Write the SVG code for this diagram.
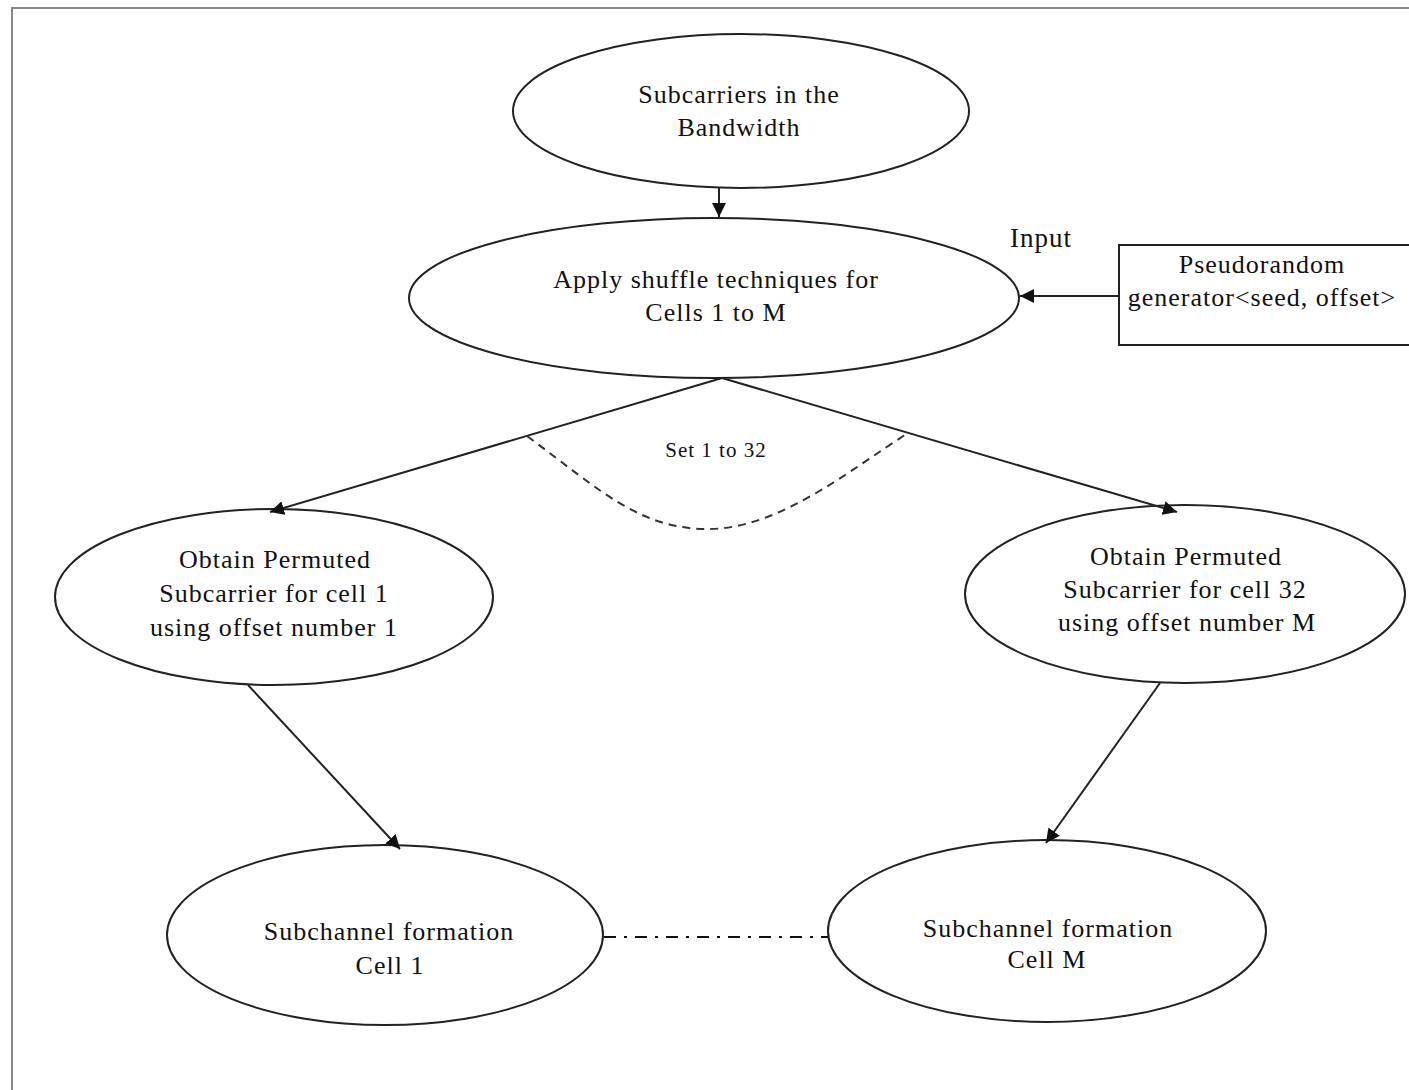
<svg xmlns="http://www.w3.org/2000/svg" width="1409" height="1090" viewBox="0 0 1409 1090">
<style>
.n{fill:none;stroke:#222;stroke-width:2}
.t{font-family:"Liberation Serif","Times New Roman",serif;font-size:26px;letter-spacing:1px;fill:#111;text-anchor:middle}
.c{fill:none;stroke:#222;stroke-width:2}
</style>
<defs>
<marker id="b" viewBox="0 0 10 10" refX="10" refY="5" markerWidth="14" markerHeight="14" markerUnits="userSpaceOnUse" orient="auto">
<path d="M0,0 L10,5 L0,10 z" fill="#111"/>
</marker>
</defs>
<rect x="0" y="0" width="1409" height="1090" fill="#fff"/>
<path d="M12,1090 V8 H1409" fill="none" stroke="#888" stroke-width="2"/>
<g id="n1"><ellipse class="n" cx="741" cy="111" rx="228" ry="77"/><text class="t" x="739" y="103">Subcarriers in the</text><text class="t" x="739" y="136">Bandwidth</text></g>
<g id="n2"><ellipse class="n" cx="714" cy="298" rx="305" ry="80"/><text class="t" x="716" y="288">Apply shuffle techniques for</text><text class="t" x="716" y="321">Cells 1 to M</text></g>
<g id="n3"><rect class="n" x="1119" y="245" width="300" height="100"/><text class="t" x="1262" y="273">Pseudorandom</text><text class="t" x="1262" y="306">generator&lt;seed, offset&gt;</text></g>
<g id="n4"><ellipse class="n" cx="274" cy="597" rx="219" ry="88"/><text class="t" x="275" y="568">Obtain Permuted</text><text class="t" x="274" y="602">Subcarrier for cell 1</text><text class="t" x="274" y="636">using offset number 1</text></g>
<g id="n5"><ellipse class="n" cx="1185" cy="594" rx="220" ry="89"/><text class="t" x="1186" y="565">Obtain Permuted</text><text class="t" x="1185" y="598">Subcarrier for cell 32</text><text class="t" x="1187" y="631">using offset number M</text></g>
<g id="n6"><ellipse class="n" cx="385" cy="935" rx="218" ry="90"/><text class="t" x="389" y="940">Subchannel formation</text><text class="t" x="390" y="974">Cell 1</text></g>
<g id="n7"><ellipse class="n" cx="1047" cy="931" rx="219" ry="91"/><text class="t" x="1048" y="937">Subchannel formation</text><text class="t" x="1047" y="968">Cell M</text></g>
<g id="connectors">
<line class="c" x1="719" y1="188" x2="719" y2="217" marker-end="url(#b)"/>
<line class="c" x1="1119" y1="296" x2="1020" y2="296" marker-end="url(#b)"/>
<line class="c" x1="722" y1="378" x2="270" y2="512" marker-end="url(#b)"/>
<line class="c" x1="722" y1="378" x2="1177" y2="512" marker-end="url(#b)"/>
<path d="M527,436 C600,490 640,530 710,529 C780,528 850,470 908,433" fill="none" stroke="#333" stroke-width="2" stroke-dasharray="8,6"/>
<line class="c" x1="248" y1="685" x2="400" y2="849" marker-end="url(#b)"/>
<line class="c" x1="1160" y1="683" x2="1046" y2="843" marker-end="url(#b)"/>
<line x1="604" y1="937" x2="828" y2="937" stroke="#111" stroke-width="2" stroke-dasharray="12,8,3,8"/>
<text class="t" x="1041" y="247" style="font-size:27px">Input</text>
<text class="t" x="716" y="457" style="font-size:21px">Set 1 to 32</text>
</g>
</svg>
